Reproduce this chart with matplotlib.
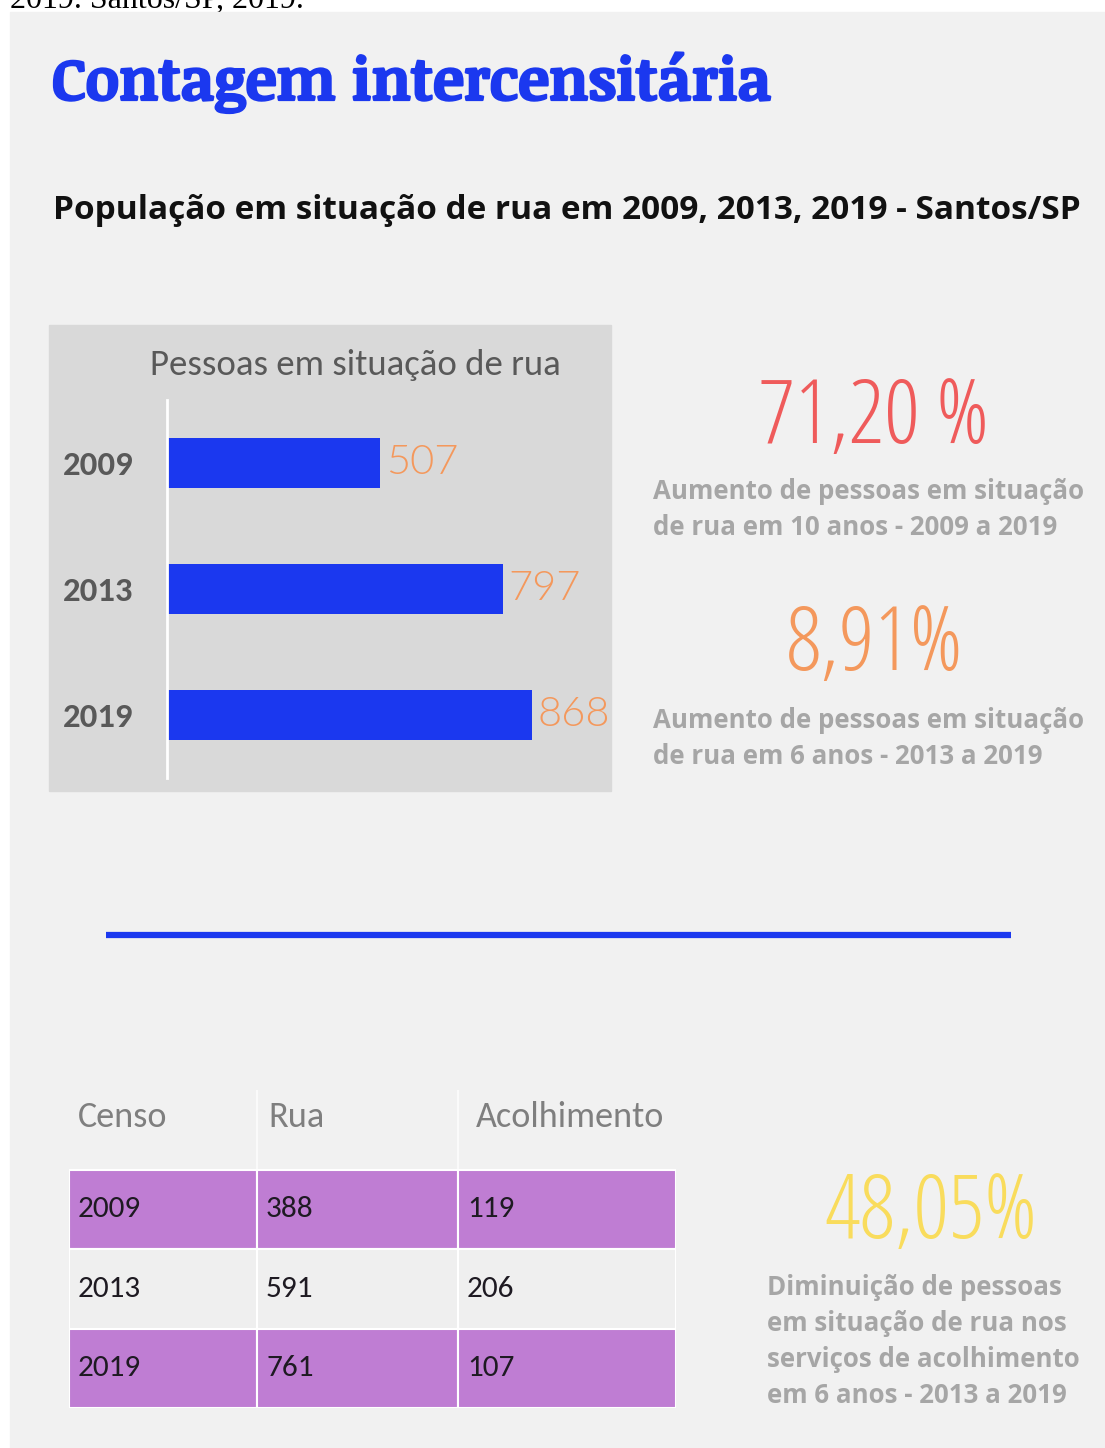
import matplotlib
matplotlib.use('Agg')  # sem display
import matplotlib.pyplot as plt
import matplotlib.patheffects as pe
from matplotlib.patches import Rectangle

# ========== dados ==========
anos = ['2009', '2013', '2019']
pessoas_rua = [507, 797, 868]

tabela_colunas = ['Censo', 'Rua', 'Acolhimento']
tabela_censo = ['2009', '2013', '2019']
tabela_rua = [388, 591, 761]
tabela_acolhimento = [119, 206, 107]

destaque_valores = ['71,20 %', '8,91%', '48,05%']
destaque_textos = [
    ['Aumento de pessoas em situação', 'de rua em 10 anos - 2009 a 2019'],
    ['Aumento de pessoas em situação', 'de rua em 6 anos - 2013 a 2019'],
    ['Diminuição de pessoas', 'em situação de rua nos', 'serviços de acolhimento', 'em 6 anos - 2013 a 2019'],
]

# ========== cores e fontes ==========
AZUL = '#1b38ef'
FUNDO = '#f1f1f1'
PAINEL = '#d9d9d9'
CINZA_ESCURO = '#595959'
CINZA_CLARO = '#a6a6a6'
ROXO = '#bf7dd3'
CORES_DESTAQUE = ['#ef5b5b', '#f4985c', '#f9dc5c']

BOLD = dict(family='Open Sans', weight='bold')
CALIBRI = dict(family='Carlito')
NUM_FINO = dict(family='Open Sans', weight=300, stretch='condensed')

W, H = 1105, 1448
fig = plt.figure(figsize=(W / 100, H / 100), dpi=100)


def eixo_px(x0, y0, x1, y1):
    # cria um eixo a partir de coordenadas em pixels (origem no topo)
    return fig.add_axes([x0 / W, 1 - y1 / H, (x1 - x0) / W, (y1 - y0) / H])


# ---------- fundo ----------
bg = eixo_px(0, 0, W, H)
bg.set_xlim(0, W)
bg.set_ylim(H, 0)
bg.axis('off')
bg.add_patch(Rectangle((10, 12), W - 10, H - 12, color=FUNDO, zorder=0))
bg.text(10, 8, '2019. Santos/SP, 2019.', family='Liberation Serif', fontsize=23,
        color='black', va='baseline', zorder=-1)

bg.text(52, 100, 'Contagem intercensitária', family='Noticia Text', weight='bold',
        fontsize=42, color=AZUL, va='baseline',
        path_effects=[pe.withStroke(linewidth=1.6, foreground=AZUL)])
bg.text(53, 219, 'População em situação de rua em 2009, 2013, 2019 - Santos/SP',
        fontsize=24, color='#111111', va='baseline', **BOLD)

# painel cinza do gráfico
bg.add_patch(Rectangle((49, 325), 562, 466, color=PAINEL, zorder=0))
bg.text(355, 365, 'Pessoas em situação de rua', fontsize=26.5, color=CINZA_ESCURO,
        ha='center', va='center', **CALIBRI)

# linha azul separadora
bg.plot([106, 1011], [935, 935], color=AZUL, lw=4.5, solid_capstyle='butt')

# ---------- destaques ----------
destaque_pos = [(874, 443, 653, 499), (875, 670, 653, 728), (931, 1238, 767, 1295)]
for valor, linhas, cor, (xc, yb, xt, yt) in zip(destaque_valores, destaque_textos,
                                                CORES_DESTAQUE, destaque_pos):
    bg.text(xc, yb, valor, fontsize=64, color=cor, ha='center', va='baseline', **NUM_FINO)
    for i, linha in enumerate(linhas):
        bg.text(xt, yt + 36 * i, linha, fontsize=18.6, color=CINZA_CLARO, va='baseline', **BOLD)

# ---------- gráfico de barras ----------
ax = eixo_px(167, 400, 611, 778)
ax.set_facecolor('none')
y = range(len(anos))
barras = ax.barh(y, pessoas_rua, height=50 / 126, color=AZUL)
ax.set_xlim(0, 444 / 0.421)
ax.set_ylim(2.5, -0.5)
for lado in ['top', 'right', 'bottom']:
    ax.spines[lado].set_visible(False)
ax.spines['left'].set_color('white')
ax.spines['left'].set_linewidth(2)
ax.set_xticks([])
ax.set_yticks(list(y))
ax.set_yticklabels(anos, fontsize=25, weight='bold', family='Carlito', color=CINZA_ESCURO)
ax.tick_params(axis='y', length=0, pad=24)
ax.bar_label(barras, labels=[str(v) for v in pessoas_rua], padding=4, fontsize=30,
             color='#f4985c', family='Lato', weight=300)

# ---------- tabela ----------
tb = eixo_px(69, 1090, 676, 1408)
bordas = [0, 188, 389, 607]
tb.set_xlim(0, 607)
tb.set_ylim(4, 0)
tb.axis('off')
fundos_linha = [ROXO, '#efefef', ROXO]
linhas_tabela = list(zip(tabela_censo, tabela_rua, tabela_acolhimento))
for c, (nome, recuo) in enumerate(zip(tabela_colunas, [9, 11, 18])):
    tb.text(bordas[c] + recuo, 0.34, nome, fontsize=26, color='#7f7f7f', va='center', **CALIBRI)
for b in bordas[1:-1]:
    tb.plot([b, b], [0, 1], color='white', lw=1.5, alpha=0.7)
for r, (linha, cor) in enumerate(zip(linhas_tabela, fundos_linha)):
    for c, valor in enumerate(linha):
        tb.add_patch(Rectangle((bordas[c], r + 1), bordas[c + 1] - bordas[c], 1,
                               facecolor=cor, edgecolor='white', lw=1.5))
        tb.text(bordas[c] + 9, r + 1.5, str(valor), fontsize=22.5, color='#1e1a22',
                va='center', **CALIBRI)

fig.savefig('out.png', dpi=100, facecolor='white')
